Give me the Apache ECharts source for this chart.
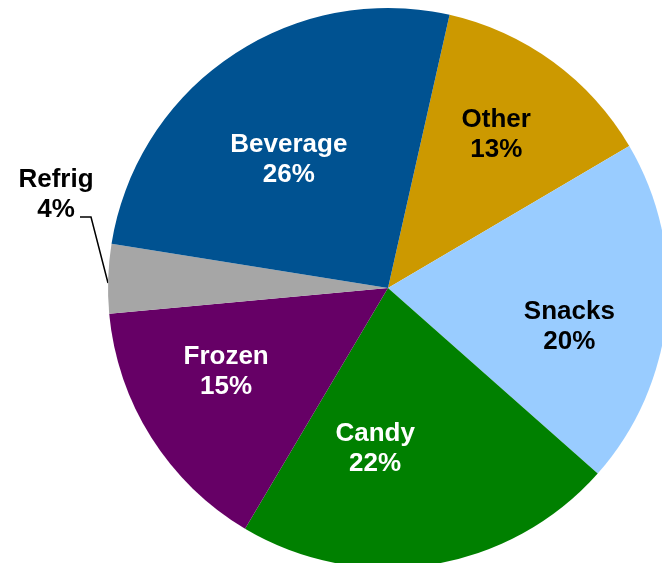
<!DOCTYPE html>
<html>
<head>
<meta charset="utf-8">
<script src="https://cdn.jsdelivr.net/npm/echarts@6/dist/echarts.min.js"></script>
<style>
html,body{margin:0;padding:0;background:#fff;}
#chart{width:662px;height:563px;}
</style>
</head>
<body>
<div id="chart"></div>
<script>
// Data
var categories = ['Other', 'Snacks', 'Candy', 'Frozen', 'Refrig', 'Beverage'];
var shares = [13, 20, 22, 15, 4, 26];

// Styles (separate from data)
var colors = ['#CC9900', '#99CCFF', '#008000', '#660066', '#A6A6A6', '#005291'];
var labelColors = ['#000', '#000', '#fff', '#fff', '#000', '#fff'];
var labelNudge = [[24, -38], [39, 25], [-35, 20], [-41, 7], null, [-19, -10]];

var chart = echarts.init(document.getElementById('chart'), null, {renderer: 'canvas'});

var data = categories.map(function (c, i) {
  var item = {
    name: c,
    value: shares[i],
    itemStyle: {color: colors[i]},
    label: {color: labelColors[i]}
  };
  if (c === 'Refrig') {
    item.label = {position: 'outside', color: '#000'};
    item.labelLine = {show: true, lineStyle: {color: '#000', width: 1.5}};
  }
  return item;
});

chart.setOption({
  backgroundColor: '#fff',
  animation: false,
  series: [{
    type: 'pie',
    center: [388, 288],
    radius: [0, 280],
    startAngle: 77.3,
    clockwise: true,
    avoidLabelOverlap: false,
    data: data,
    itemStyle: {borderWidth: 0},
    emphasis: {disabled: true},
    label: {
      show: true,
      position: 'inside',
      formatter: function (p) { return p.name + '\n' + p.value + '%'; },
      fontFamily: 'Liberation Sans, Arial, sans-serif',
      fontWeight: 'bold',
      fontSize: 26,
      lineHeight: 30,
      align: 'center'
    },
    labelLine: {show: false},
    labelLayout: function (params) {
      var i = params.dataIndex;
      if (categories[i] === 'Refrig') {
        return {
          x: 56, y: 195, align: 'center', verticalAlign: 'middle',
          labelLinePoints: [[108, 283], [91, 217], [80, 217]]
        };
      }
      var n = labelNudge[i];
      return n ? {dx: n[0], dy: n[1]} : {};
    }
  }]
});
</script>
</body>
</html>
